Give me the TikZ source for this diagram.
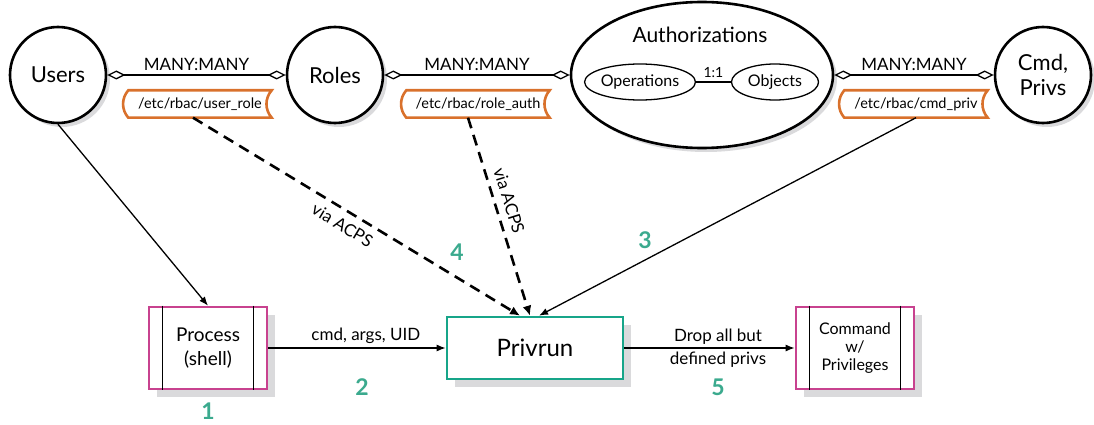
\documentclass[tikz,border=0pt]{standalone}
\usepackage{fontspec}
\setmainfont{Lato}
\usetikzlibrary{arrows.meta,shadows,shapes.geometric}
\definecolor{procpink}{HTML}{C8428F}
\definecolor{runteal}{HTML}{17A589}
\definecolor{stepgreen}{HTML}{3BAA8E}
\definecolor{fileorange}{HTML}{D9712C}
\definecolor{shadegray}{HTML}{DADADC}
\tikzset{
    entity/.style={circle, draw, line width=2.6pt, fill=white, minimum size=96pt, inner sep=0pt,
        align=center, font=\fontsize{22}{25}\selectfont,
        general shadow={fill=shadegray, shadow xshift=4pt, shadow yshift=-4pt}},
    subentity/.style={ellipse, draw, line width=1.3pt, minimum height=36pt, inner sep=0pt,
        font=\fontsize{16}{18}\selectfont},
    procbox/.style={rectangle, draw=procpink, line width=2.6pt, fill=white, minimum height=82pt,
        align=center, general shadow={fill=shadegray, shadow xshift=8pt, shadow yshift=-8pt}},
    runbox/.style={rectangle, draw=runteal, line width=2.6pt, fill=white, minimum width=176pt,
        minimum height=62pt, font=\fontsize{24}{27}\selectfont,
        general shadow={fill=shadegray, shadow xshift=8pt, shadow yshift=-8pt}},
    filetag/.style={inner sep=0pt, minimum width=143pt, minimum height=27pt, font=\fontsize{14.5}{16}\selectfont},
    relation/.style={line width=1.3pt, {Diamond[open,length=18pt,width=9pt]}-{Diamond[open,length=18pt,width=9pt]}},
    flow/.style={line width=1.3pt, -{Latex[length=9pt,width=7pt]}},
    acps/.style={line width=2.6pt, dash pattern=on 11pt off 7pt, -{Latex[length=10pt,width=9pt]}},
    stepnum/.style={text=stepgreen, font=\fontsize{23}{26}\selectfont\bfseries},
    lbl/.style={font=\fontsize{17}{19}\selectfont}
}
% file tag: name, position, text
\newcommand\FileTag[3]{%
    \node[filetag] (#1) at (#2) {#3};
    \draw[fileorange, line width=2.6pt] (#1.north west) -- (#1.north east)
        .. controls +(-7,8) and +(-7,-8) .. (#1.south east) -- (#1.south west)
        .. controls +(-7,-8) and +(-7,8) .. (#1.north west) -- cycle;
}
% process box: name, position, font size, baselineskip, text
\newcommand\ProcBox[5]{%
    \node[procbox, minimum width=118pt, font=\fontsize{#3}{#4}\selectfont] (#1) at (#2) {#5};
    \draw[line width=1.3pt] ([xshift=15pt]#1.north west) -- ([xshift=15pt]#1.south west);
    \draw[line width=1.3pt] ([xshift=-15pt]#1.north east) -- ([xshift=-15pt]#1.south east);
}
\begin{document}
\begin{tikzpicture}[x=1pt, y=-1pt]
    \useasboundingbox (0,0) rectangle (1094,425);
    % data model
    \node[entity] (users) at (58,75) {Users};
    \node[entity] (roles) at (335,75) {Roles};
    \node[entity, ellipse, minimum width=262pt, minimum height=146pt] (auth) at (702,75) {};
    \node[font=\fontsize{21}{24}\selectfont] (authtitle) at (700,35) {Authorizations};
    \node[subentity, minimum width=110pt] (ops) at (640,82) {Operations};
    \node[subentity, minimum width=87pt] (objs) at (775,82) {Objects};
    \draw[line width=1.3pt] (ops) -- node[above, font=\fontsize{14}{16}\selectfont] {1:1} (objs);
    \node[entity] (cmd) at (1043,75) {Cmd,\\Privs};
    \draw[relation] (users) -- node[above, lbl] {MANY:MANY} (roles);
    \draw[relation] (roles) -- node[above, lbl] {MANY:MANY} (auth);
    \draw[relation] (auth) -- node[above, lbl] {MANY:MANY} (cmd);
    \FileTag{userrole}{200,104}{/etc/rbac/user\_role}
    \FileTag{roleauth}{478,104}{/etc/rbac/role\_auth}
    \FileTag{cmdpriv}{916,104}{/etc/rbac/cmd\_priv}
    % execution
    \ProcBox{proc}{208,348}{19}{24}{Process\\(shell)}
    \node[runbox] (run) at (535,348) {Privrun};
    \ProcBox{cmdbox}{855,348}{16}{18}{Command\\w/\\Privileges}
    \draw[flow] (users.south) -- (proc.north);
    \draw[acps] ([xshift=-7pt]userrole.south) -- node[pos=0.48, sloped, below, inner sep=7pt, lbl] {via ACPS} ([xshift=-15pt]run.north);
    \draw[acps] ([xshift=-10pt]roleauth.south) -- node[pos=0.44, sloped, above, inner sep=7pt, lbl] {via ACPS} ([xshift=-5pt]run.north);
    \draw[flow] (cmdpriv.south) -- ([xshift=4pt]run.north);
    \draw[flow] (proc) -- node[pos=0.55, above, lbl] {cmd, args, UID} (run);
    \draw[flow] (run) -- node[pos=0.55, above, lbl] {Drop all but}
        node[pos=0.55, below, lbl] {defined privs} (cmdbox);
    % steps
    \node[stepnum] (s1) at (208,411) {1};
    \node[stepnum] (s2) at (362,387) {2};
    \node[stepnum] (s3) at (645,240) {3};
    \node[stepnum] (s4) at (457,252) {4};
    \node[stepnum] (s5) at (718,387) {5};
\end{tikzpicture}
\end{document}
